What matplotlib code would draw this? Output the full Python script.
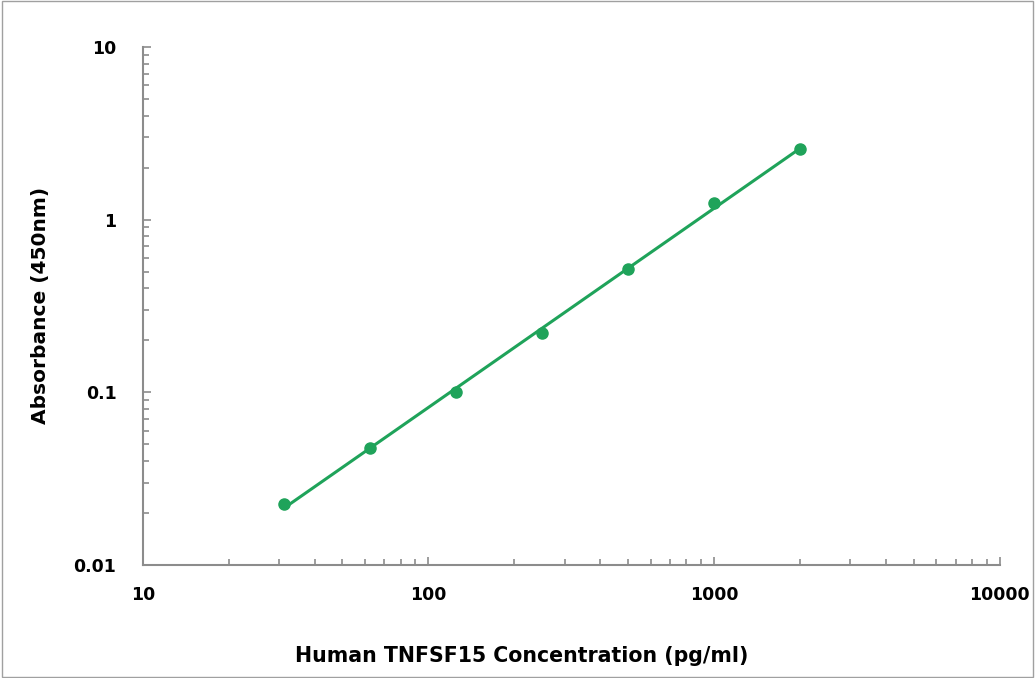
import numpy as np
import matplotlib
matplotlib.use("Agg")
import matplotlib.pyplot as plt
from matplotlib.patches import Rectangle
from matplotlib.ticker import LogLocator, FixedLocator, NullFormatter

# standard curve data
conc = [31.25, 62.5, 125, 250, 500, 1000, 2000]
absorb = [0.0226, 0.0476, 0.100, 0.221, 0.52, 1.25, 2.56]

x_ticks = [10, 100, 1000, 10000]
x_labels = ["10", "100", "1000", "10000"]
y_ticks = [0.01, 0.1, 1, 10]
y_labels = ["0.01", "0.1", "1", "10"]

green = "#1fa35a"
axis_gray = "#8c8c8c"

plt.rcParams['font.family'] = ['DejaVu Sans']

fig = plt.figure(figsize=(10.35, 6.78), dpi=100)
ax = fig.add_axes([0.138, 0.1667, 0.828, 0.7643])

# power trendline (fit in log-log space)
k, b = np.polyfit(np.log10(conc), np.log10(absorb), 1)
xf = np.logspace(np.log10(conc[0]), np.log10(conc[-1]), 100)
ax.plot(xf, 10 ** (k * np.log10(xf) + b), color=green, lw=2.2, zorder=2)
ax.plot(conc, absorb, "o", color=green, ms=8, zorder=3)

ax.set_xscale("log")
ax.set_yscale("log")
ax.set_xlim(10, 10000)
ax.set_ylim(0.01, 10)

ax.xaxis.set_major_locator(FixedLocator(x_ticks))
ax.set_xticklabels(x_labels)
ax.yaxis.set_major_locator(FixedLocator(y_ticks))
ax.set_yticklabels(y_labels)
ax.xaxis.set_minor_locator(LogLocator(base=10, subs=np.arange(2, 10)))
ax.yaxis.set_minor_locator(LogLocator(base=10, subs=np.arange(2, 10)))
ax.xaxis.set_minor_formatter(NullFormatter())
ax.yaxis.set_minor_formatter(NullFormatter())

for s in ["top", "right"]:
    ax.spines[s].set_visible(False)
for s in ["left", "bottom"]:
    ax.spines[s].set_color(axis_gray)
    ax.spines[s].set_linewidth(1.5)

ax.tick_params(which="major", direction="in", length=6, width=1.2, color=axis_gray,
               labelsize=12.5)
ax.tick_params(axis="x", which="major", pad=15)
ax.tick_params(axis="y", which="major", pad=19)
ax.tick_params(which="minor", direction="in", length=4, width=1.2, color=axis_gray)
for lbl in ax.get_xticklabels() + ax.get_yticklabels():
    lbl.set_fontweight("bold")

ax.set_xlabel("Human TNFSF15 Concentration (pg/ml)", fontsize=14.8, fontweight="bold")
ax.set_ylabel("Absorbance (450nm)", fontsize=14.5, fontweight="bold")
ax.xaxis.set_label_coords(0.4417, -0.156)
ax.yaxis.set_label_coords(-0.108, 0.5)

# outer frame
fig.patches.append(Rectangle((0.002, 0.002), 0.996, 0.996, transform=fig.transFigure,
                             fill=False, edgecolor="#a0a0a0", lw=1))

fig.savefig("out.png", dpi=100)
